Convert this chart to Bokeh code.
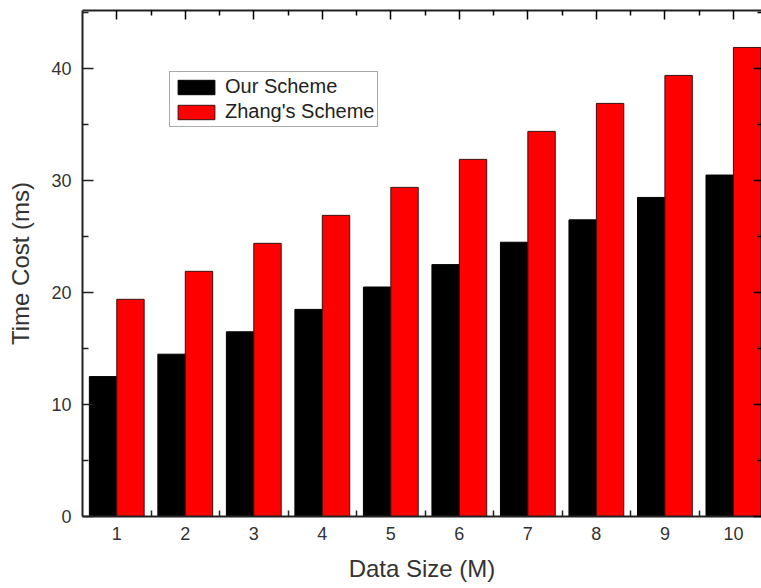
from bokeh.plotting import figure
from bokeh.models import (ColumnDataSource, FixedTicker, LinearAxis, Range1d,
                          Legend, LegendItem)
from bokeh.transform import dodge
from bokeh.embed import file_html
from bokeh.resources import INLINE

data_size = [1, 2, 3, 4, 5, 6, 7, 8, 9, 10]
our_scheme = [12.5, 14.5, 16.5, 18.5, 20.5, 22.5, 24.5, 26.5, 28.5, 30.5]
zhang_scheme = [19.4, 21.9, 24.4, 26.9, 29.4, 31.9, 34.4, 36.9, 39.4, 41.9]
y_ticks = [0, 10, 20, 30, 40]
y_minor = [5, 15, 25, 35, 45]
x_minor = [1.5, 2.5, 3.5, 4.5, 5.5, 6.5, 7.5, 8.5, 9.5]

src = ColumnDataSource(dict(x=data_size, ours=our_scheme, zhang=zhang_scheme))

FONT = "Liberation Sans"

p = figure(width=761, height=588, output_backend="svg", toolbar_location=None,
           x_range=Range1d(0.5, 10.41), y_range=Range1d(0, 45.2),
           min_border_left=82, min_border_top=10, min_border_bottom=72,
           min_border_right=0)
p.outline_line_color = None
p.xgrid.visible = False
p.ygrid.visible = False
p.background_fill_color = "white"
p.border_fill_color = "white"

r1 = p.vbar(x=dodge("x", -0.2), top="ours", width=0.4, bottom=0, source=src,
            fill_color="black", line_color="black", line_width=1)
r2 = p.vbar(x=dodge("x", 0.2), top="zhang", width=0.4, bottom=0, source=src,
            fill_color="#ff0000", line_color="#3a1010", line_width=1)

# bottom axis
xa = p.xaxis[0]
xa.ticker = FixedTicker(ticks=data_size, minor_ticks=x_minor)
xa.major_tick_in = 0
xa.major_tick_out = 0
xa.minor_tick_in = 6
xa.minor_tick_out = 0
xa.axis_line_width = 2
xa.axis_line_color = "#222222"
xa.minor_tick_line_width = 1.5
xa.minor_tick_line_color = "#222222"
xa.major_label_text_font = FONT
xa.major_label_text_font_size = "18px"
xa.major_label_text_color = "#333333"
xa.major_label_standoff = 10
xa.axis_label = "Data Size (M)"
xa.axis_label_text_font = FONT
xa.axis_label_text_font_size = "24px"
xa.axis_label_text_font_style = "normal"
xa.axis_label_text_color = "#333333"
xa.axis_label_standoff = 12

# left axis
ya = p.yaxis[0]
ya.ticker = FixedTicker(ticks=y_ticks, minor_ticks=y_minor)
ya.major_tick_in = 11
ya.major_tick_out = 0
ya.minor_tick_in = 6
ya.minor_tick_out = 0
ya.axis_line_width = 2
ya.axis_line_color = "#222222"
ya.major_tick_line_width = 1.5
ya.major_tick_line_color = "#222222"
ya.minor_tick_line_width = 1.5
ya.minor_tick_line_color = "#222222"
ya.major_label_text_font = FONT
ya.major_label_text_font_size = "18px"
ya.major_label_text_color = "#333333"
ya.major_label_standoff = 11
ya.axis_label = "Time Cost (ms)"
ya.axis_label_text_font = FONT
ya.axis_label_text_font_size = "24px"
ya.axis_label_text_font_style = "normal"
ya.axis_label_text_color = "#333333"
ya.axis_label_standoff = 14

# top axis (ticks only, labels not drawn)
ta = LinearAxis(ticker=FixedTicker(ticks=data_size, minor_ticks=x_minor))
ta.major_tick_in = 9
ta.major_tick_out = 0
ta.minor_tick_in = 5
ta.minor_tick_out = 0
ta.axis_line_width = 2
ta.axis_line_color = "#222222"
ta.major_tick_line_width = 1.5
ta.minor_tick_line_width = 1.5
ta.major_label_text_font_size = "1px"
ta.major_label_text_color = None
ta.major_label_standoff = 0
p.add_layout(ta, "above")

# right axis (ticks only, labels not drawn)
ra = LinearAxis(ticker=FixedTicker(ticks=y_ticks, minor_ticks=y_minor))
ra.major_tick_in = 8
ra.major_tick_out = 0
ra.minor_tick_in = 4
ra.minor_tick_out = 0
ra.axis_line_color = None
ra.major_tick_line_width = 1.5
ra.minor_tick_line_width = 1.5
ra.major_label_text_font_size = "1px"
ra.major_label_text_color = None
ra.major_label_standoff = 0
p.add_layout(ra, "right")

legend = Legend(items=[LegendItem(label="Our Scheme", renderers=[r1]),
                       LegendItem(label="Zhang's Scheme", renderers=[r2])],
                location=(87, 389))
legend.label_text_font = FONT
legend.label_text_font_size = "20px"
legend.label_text_color = "#222222"
legend.glyph_width = 46
legend.glyph_height = 18
legend.label_height = 20
legend.label_standoff = 6
legend.padding = 3
legend.spacing = 2
legend.margin = 0
legend.border_line_color = "#555555"
legend.border_line_width = 1.5
legend.background_fill_color = "white"
legend.background_fill_alpha = 1
p.add_layout(legend, "center")

open("out.html", "w").write(file_html(p, INLINE))
